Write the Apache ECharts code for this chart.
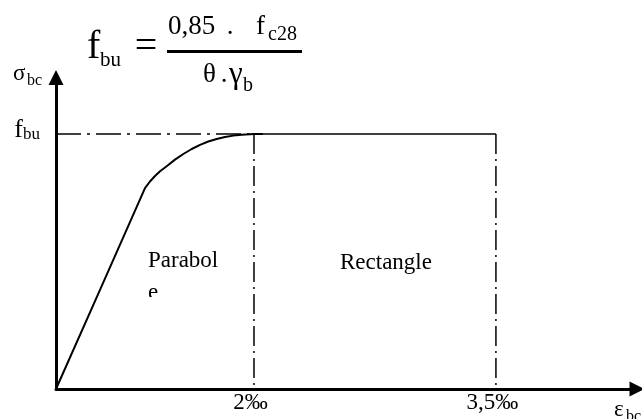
<!DOCTYPE html>
<html><head><meta charset="utf-8">
<script src="https://cdn.jsdelivr.net/npm/echarts@6/dist/echarts.min.js"></script>
<style>html,body{margin:0;padding:0;background:#fff}#c{width:642px;height:419px}</style>
</head><body><div id="c"></div>
<script>
// Schematic (not-to-scale) units: origin 0, "2‰" drawn at x=2, "3,5‰" drawn at x=4.444; f_bu = 1
const xTickPos = [2, 4.444];
const xTickLabels = ['2‰', '3,5‰'];
const yTickPos = [1];
const yTickLabels = ['{f|f}{s|bu}'];
const curveX = [0, 0.45, 0.899, 0.949, 1.000, 1.051, 1.118, 1.202, 1.286, 1.371, 1.455, 1.538, 1.623, 1.707, 1.791, 1.876, 1.960, 2.0, 2.09];
const curveY = [0, 0.394, 0.788, 0.8137, 0.8353, 0.8539, 0.8737, 0.8996, 0.9216, 0.9412, 0.9576, 0.9706, 0.9804, 0.9882, 0.9937, 0.9971, 0.999, 1.0, 1.0];
const plateauX = [2, 4.444];
const plateauY = [1, 1];
const guideX = [0, 2];
const guideY = [1, 1];
const v2X = [2, 2];
const v2Y = [1, 0];
const v35X = [4.444, 4.444];
const v35Y = [1, 0];
const xMax = 5.869;
const yMax = 1.2216;

const zip = (a, b) => a.map((v, i) => [v, b[i]]);
const FF = 'Liberation Serif';
function T(text, x, base, size, align, family) {
  return { type: 'text', x: x, y: base - 0.305 * size, z: 100,
    style: { text: text, fontSize: size, fontFamily: family || FF, fill: '#000',
             align: align || 'left', verticalAlign: 'middle' } };
}

const chart = echarts.init(document.getElementById('c'), null, { renderer: 'canvas' });
const axisLine = { show: true, symbol: ['none', 'triangle'], symbolSize: [15, 15],
  lineStyle: { color: '#000', width: 3 } };

chart.setOption({
  animation: false,
  backgroundColor: '#fff',
  grid: { left: 56, right: 5, top: 77.5, bottom: 30, containLabel: false, outerBoundsMode: 'none' },
  xAxis: {
    type: 'value', min: 0, max: xMax,
    axisLine: axisLine, axisTick: { show: false }, splitLine: { show: false },
    axisLabel: {
      customValues: xTickPos, margin: 2, padding: [0, 7, 0, 0],
      formatter: v => { const i = xTickPos.findIndex(p => Math.abs(p - v) < 1e-6); return i >= 0 ? xTickLabels[i] : ''; },
      fontFamily: FF, fontSize: 23, color: '#000'
    }
  },
  yAxis: {
    type: 'value', min: 0, max: yMax,
    axisLine: axisLine, axisTick: { show: false }, splitLine: { show: false },
    axisLabel: {
      customValues: yTickPos, margin: 16, padding: [0, 0, 12, 0],
      formatter: v => { const i = yTickPos.findIndex(p => Math.abs(p - v) < 1e-6); return i >= 0 ? yTickLabels[i] : ''; },
      rich: {
        f: { fontFamily: FF, fontSize: 26, color: '#000', lineHeight: 30, verticalAlign: 'bottom' },
        s: { fontFamily: FF, fontSize: 17, color: '#000', lineHeight: 14, verticalAlign: 'bottom' }
      }
    }
  },
  series: [
    { type: 'line', data: zip(curveX, curveY), smooth: false, symbol: 'none',
      lineStyle: { color: '#000', width: 2, join: 'round' }, z: 5 },
    { type: 'line', data: zip(plateauX, plateauY), symbol: 'none',
      lineStyle: { color: '#000', width: 1.5 }, z: 4 },
    { type: 'line', data: zip(guideX, guideY), symbol: 'none',
      lineStyle: { color: '#000', width: 1.5, type: [25, 6, 3, 6] }, z: 3 },
    { type: 'line', data: zip(v2X, v2Y), symbol: 'none',
      lineStyle: { color: '#000', width: 1.5, type: [20, 5, 2, 5] }, z: 3 },
    { type: 'line', data: zip(v35X, v35Y), symbol: 'none',
      lineStyle: { color: '#000', width: 1.5, type: [20, 5, 2, 5] }, z: 3 }
  ],
  graphic: [
    // formula f_bu = 0,85 . f_c28 / (θ . γ_b)
    T('f', 87, 60, 40),
    T('bu', 100, 67, 21),
    T('=', 146, 60, 40, 'center'),
    { type: 'line', z: 100, shape: { x1: 167, y1: 51.5, x2: 302, y2: 51.5 }, style: { stroke: '#000', lineWidth: 3 } },
    T('0,85', 168, 35, 27),
    T('.', 230, 35, 27, 'center'),
    T('f', 256, 35, 27),
    T('c28', 268, 41, 20),
    T('θ', 203, 83, 27),
    T('.', 224, 83, 27, 'center'),
    T('γ', 229, 84, 31),
    T('b', 243, 92, 20),
    // axis titles
    T('σ', 13, 81, 23),
    T('bc', 27, 86, 16),
    T('ε', 614, 417, 23),
    T('bc', 626, 422, 16),
    // region labels
    T('Parabol', 148, 268, 23),
    T('e', 148, 300, 23),
    { type: 'rect', z: 101, shape: { x: 140, y: 297, width: 40, height: 20 }, style: { fill: '#fff' } },
    T('Rectangle', 340, 270, 23)
  ]
});
</script></body></html>
